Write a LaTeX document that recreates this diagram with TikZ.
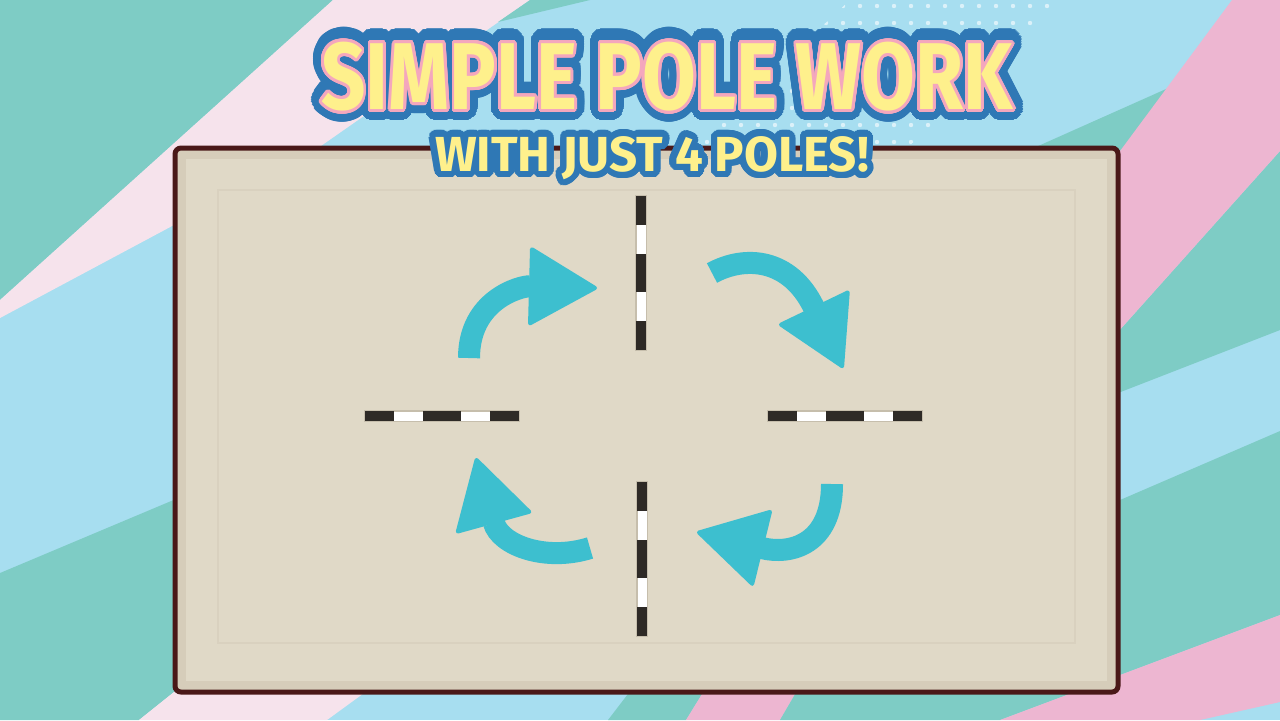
\documentclass[tikz,border=0pt]{standalone}
\usepackage{fontspec}
\setmainfont{Fira Sans}
\usepackage{graphicx}
\usepackage{contour}
\usetikzlibrary{arrows.meta}

\definecolor{bgteal}{HTML}{7ECCC5}
\definecolor{bgblue}{HTML}{A7DEF0}
\definecolor{bgpale}{HTML}{F6E3EC}
\definecolor{bgpink}{HTML}{EDB6D1}
\definecolor{boxedge}{HTML}{4A1818}
\definecolor{boxrim}{HTML}{D6CDBA}
\definecolor{boxfloor}{HTML}{E0D9C7}
\definecolor{boxline}{HTML}{D9D1BF}
\definecolor{arrowteal}{HTML}{3DBFCF}
\definecolor{poleblack}{HTML}{2E2A26}
\definecolor{polegrey}{HTML}{C6BEAC}
\definecolor{ttlblue}{HTML}{2F78B5}
\definecolor{ttlpink}{HTML}{F4A7BD}
\definecolor{ttlyellow}{HTML}{FEF08C}

\begin{document}
\begin{tikzpicture}[x=0.01cm, y=-0.01cm,
    titlefont/.style={font=\fontsize{27pt}{29pt}\selectfont\bfseries},
    subfont/.style={font=\fontsize{14pt}{16pt}\selectfont\bfseries},
    turnarrow/.style={draw=arrowteal, line width=0.22cm,
      -{Triangle[length=0.7cm, width=0.8cm, round, line width=0.04cm]}},
  ]
  \useasboundingbox (0,0) rectangle (1280,720);

  % Background stripes
  \fill[bgblue] (0,0) rectangle (1280,720);
  \fill[bgteal] (0,0) -- (333,0) -- (0,300) -- cycle;
  \fill[bgpale] (333,0) -- (530,0) -- (318,148) -- (0,318) -- (0,300) -- cycle;
  \fill[bgteal] (530,0) -- (590,0) -- (498,22) -- cycle;
  \fill[bgteal] (0,573) -- (680,287) -- (139,720) -- (0,720) -- cycle;
  \fill[bgpale] (139,720) -- (600,351) -- (700,448) -- (327,720) -- cycle;
  \fill[bgteal] (608,720) -- (686,720) -- (760,600) -- (700,600) -- cycle;
  \fill[bgpink] (686,720) -- (780,720) -- (850,600) -- (760,600) -- cycle;
  \fill[bgteal] (780,720) -- (1000,720) -- (1280,615) -- (1280,431) -- (1120,500) -- (850,600) -- cycle;
  \fill[bgpink] (1000,720) -- (1280,615) -- (1280,702) -- (1200,720) -- cycle;
  \fill[bgteal] (1280,151) -- (1280,330) -- (1100,400) -- (1100,352) -- cycle;
  \fill[bgteal] (1000,163) -- (1175,85) -- (1100,178) -- (1000,250) -- cycle;
  \fill[bgpink] (1232,0) -- (1280,0) -- (1280,151) -- (1100,352) -- (1100,178) -- cycle;

  % Dots behind the title
  \begin{scope}
    \clip (850,0) -- (1065,0) -- (905,150) -- (690,150) -- cycle;
    \foreach \i in {0,...,24}
      \foreach \j in {0,...,9}
        \fill[white, opacity=0.6] (690+\i*17, 6+\j*17) circle (2.2);
  \end{scope}

  % Arena
  \draw[boxedge, line width=0.05cm, fill=boxrim, rounded corners=0.06cm] (175,148) rectangle (1118,692);
  \fill[boxfloor] (186,159) rectangle (1107,681);
  \draw[boxline, line width=0.02cm] (218,190) rectangle (1075,643);

  % Poles
  \foreach \cx/\cy/\ang in {641/273/90, 642/559/90, 442/416/0, 845/416/0} {
    \begin{scope}[shift={(\cx,\cy)}, rotate=\ang]
      \draw[polegrey, line width=0.12cm] (-78,0) -- (78,0);
      \draw[white, line width=0.09cm] (-77,0) -- (77,0);
      \foreach \a/\b in {-77/-48, -19/19, 48/77}
        \draw[poleblack, line width=0.1cm] (\a,0) -- (\b,0);
    \end{scope}
  }

  % Turning arrows
  \coordinate (tl-start) at (469,358);
  \coordinate (tl-tip) at (597,288);
  \coordinate (tr-start) at (712,273);
  \coordinate (tr-tip) at (843,368);
  \coordinate (br-start) at (832,484);
  \coordinate (br-tip) at (697,532);
  \coordinate (bl-start) at (590,548);
  \coordinate (bl-tip) at (476,458);
  \draw[turnarrow] (tl-start) .. controls (469,300) and (520,286) .. (tl-tip);
  \draw[turnarrow] (tr-start) .. controls (745,255) and (790,258) .. (tr-tip);
  \draw[turnarrow] (br-start) .. controls (832,545) and (790,555) .. (br-tip);
  \draw[turnarrow] (bl-start) .. controls (545,562) and (500,545) .. (bl-tip);

  % Title
  \node[titlefont, text=ttlblue] (titleback) at (667,81)
    {\contourlength{3.6pt}\scalebox{0.82}[1]{\contour[48]{ttlblue}{SIMPLE POLE WORK}}};
  \node[titlefont, text=ttlyellow] (title) at (667,78)
    {\contourlength{0.9pt}\scalebox{0.82}[1]{\contour[32]{ttlpink}{SIMPLE POLE WORK}}};
  \node[subfont, text=ttlyellow] (subtitle) at (652,161)
    {\contourlength{1.8pt}\contour[32]{ttlblue}{WITH JUST 4 POLES!}};
\end{tikzpicture}
\end{document}
